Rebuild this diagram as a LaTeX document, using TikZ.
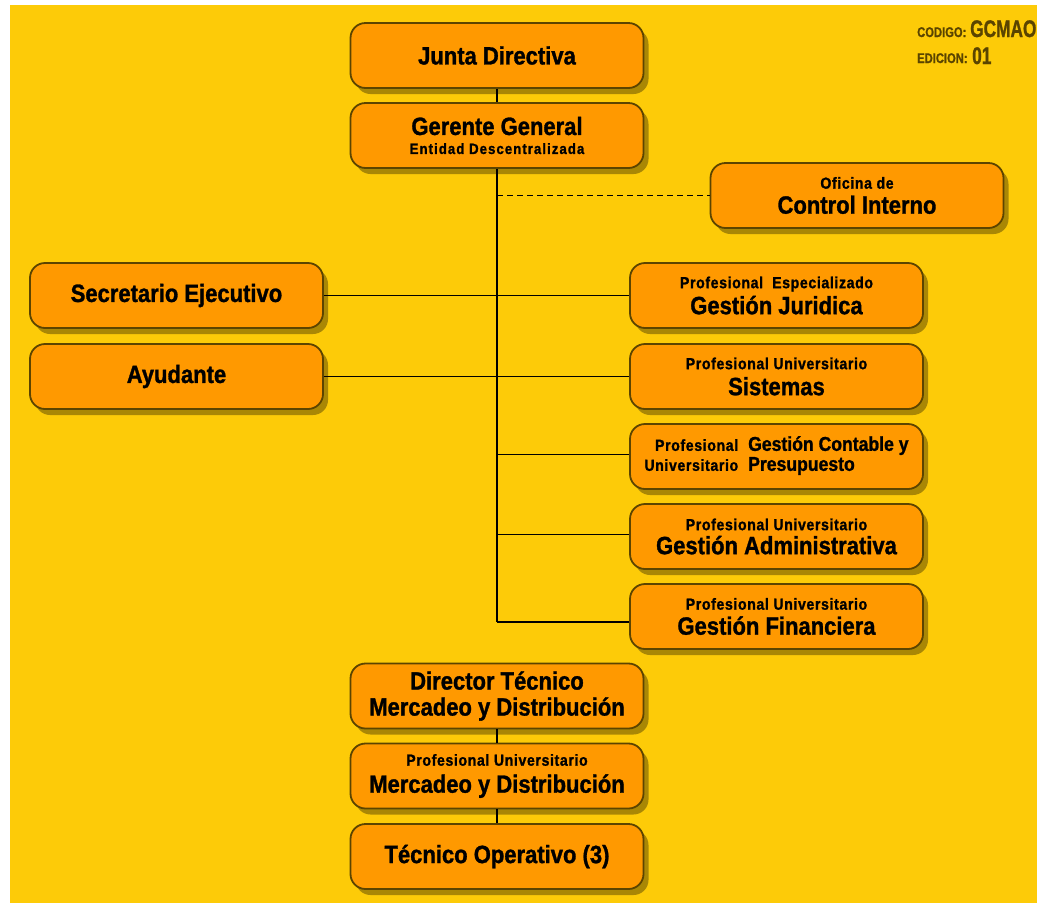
\documentclass[tikz,border=0pt]{standalone}
\usepackage{fontspec}
\setmainfont{Liberation Sans}[FakeStretch=0.88, BoldFeatures={FakeBold=1.2}]
\newfontfamily\codefontA{Liberation Sans}[FakeStretch=0.8, BoldFeatures={FakeBold=1}]
\newfontfamily\codefontB{Liberation Sans}[FakeStretch=0.72, BoldFeatures={FakeBold=1}]
\usetikzlibrary{shadows}
\definecolor{bgyellow}{RGB}{253,203,8}
\definecolor{boxorange}{RGB}{255,153,0}
\definecolor{boxborder}{RGB}{92,68,0}
\definecolor{codebrown}{RGB}{90,68,0}
\tikzset{
  orgbox/.style={draw=boxborder, line width=1.8pt, fill=boxorange, rounded corners=15pt,
    minimum width=293pt, minimum height=65pt, align=center, inner sep=0pt,
    font=\fontsize{25}{26}\selectfont\bfseries,
    drop shadow={shadow xshift=5pt, shadow yshift=-6pt, fill=black!55!bgyellow, opacity=0.6}},
  link/.style={line width=1.3pt, black},
  codetext/.style={anchor=base west, inner sep=0pt, text=codebrown, font=\bfseries},
}
\newcommand{\smalltxt}[1]{{\fontsize{16}{16}\selectfont\addfontfeature{LetterSpace=4}#1}}
\newcommand{\tinytxt}[1]{{\fontsize{15}{15}\selectfont\addfontfeature{LetterSpace=7}#1}}
\begin{document}
\begin{tikzpicture}[x=1pt,y=-1pt]
\fill[white] (0,0) rectangle (1037,903);
\fill[bgyellow] (10,5) rectangle (1037,903);
\useasboundingbox (0,0) rectangle (1037,903);

\node[orgbox] (junta) at (497,55.5) {Junta Directiva};
\node[orgbox] (gerente) at (497,135.5) {Gerente General\\[-7pt]\tinytxt{Entidad Descentralizada}};
\node[orgbox] (control) at (857,195.5) {\smalltxt{Oficina de}\\[-1pt]Control Interno};
\node[orgbox] (secre) at (176.5,295.5) {Secretario Ejecutivo};
\node[orgbox] (ayud) at (176.5,376.5) {Ayudante};
\node[orgbox] (jur) at (776.5,295.5) {\smalltxt{Profesional\ \ Especializado}\\[0pt]Gestión Juridica};
\node[orgbox] (sis) at (776.5,376.5) {\smalltxt{Profesional Universitario}\\[0pt]Sistemas};
\node[orgbox] (cont) at (776.5,456.5) {{\fontsize{20}{20}\selectfont
  \begin{tabular}{@{}r@{\hspace{10pt}}l@{}}
  \smalltxt{Profesional} & Gestión Contable y\\
  \smalltxt{Universitario} & Presupuesto
  \end{tabular}}};
\node[orgbox] (adm) at (776.5,536.5) {\smalltxt{Profesional Universitario}\\[-2pt]Gestión Administrativa};
\node[orgbox] (fin) at (776.5,616.5) {\smalltxt{Profesional Universitario}\\[-1pt]Gestión Financiera};
\node[orgbox] (dir) at (497,696) {Director Técnico\\[0pt]Mercadeo y Distribución};
\node[orgbox] (prof) at (497,776) {\smalltxt{Profesional Universitario}\\[1pt]Mercadeo y Distribución};
\node[orgbox] (tec) at (497,856.5) {Técnico Operativo (3)};

\coordinate (spineend) at (497,622);

\draw[link] (junta) -- (gerente);
\draw[link] (gerente.south) -- (spineend);
\draw[link, dashed, dash pattern=on 6pt off 4pt] (control.west -| gerente.south) -- (control.west);
\draw[link] (secre.east) -- (jur.west);
\draw[link] (ayud.east) -- (sis.west);
\draw[link] ([yshift=2pt]cont.west -| gerente.south) -- ([yshift=2pt]cont.west);
\draw[link] ([yshift=2pt]adm.west -| gerente.south) -- ([yshift=2pt]adm.west);
\draw[link] (spineend) -- (spineend -| fin.west);
\draw[link] (dir) -- (prof);
\draw[link] (prof) -- (tec);

\node[codetext] (codlab) at (917,37) {\codefontA\fontsize{14}{14}\selectfont CODIGO:};
\node[codetext] (codval) at (970,37) {\codefontB\fontsize{24}{24}\selectfont GCMAO};
\node[codetext] (edlab) at (917,63) {\codefontA\fontsize{14}{14}\selectfont EDICION:};
\node[codetext] (edval) at (972,64) {\codefontB\fontsize{24}{24}\selectfont 01};
\end{tikzpicture}
\end{document}
